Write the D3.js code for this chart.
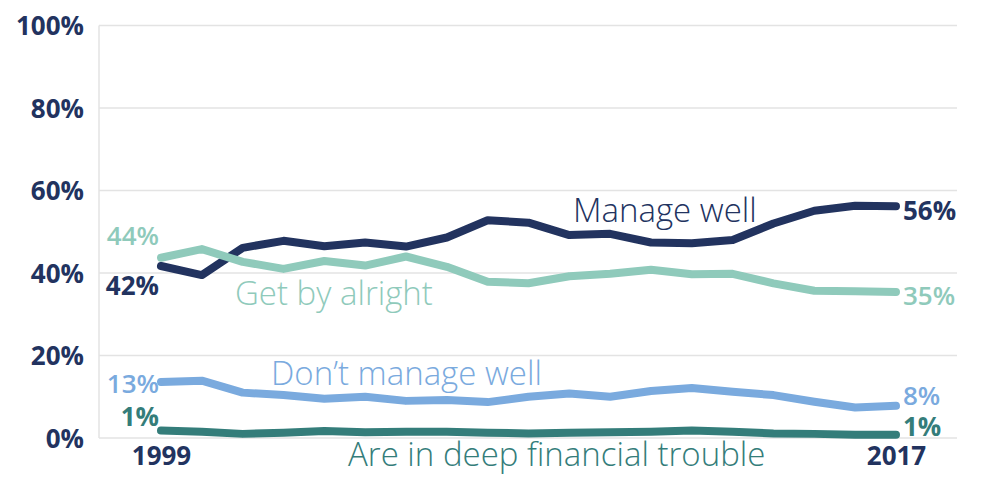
<!DOCTYPE html>
<html><head><meta charset="utf-8">
<script src="https://cdn.jsdelivr.net/npm/d3@7"></script>
<style>
html,body{margin:0;padding:0;background:#fff;}
svg{display:block;}
text{font-family:"Open Sans","Noto Sans",sans-serif;}
</style></head>
<body>
<svg id="chart" width="994" height="498"></svg>
<script>
const years = d3.range(1999, 2018);
const manageWell = [41.7,39.5,46.1,47.8,46.5,47.4,46.4,48.6,52.8,52.2,49.2,49.5,47.4,47.2,48.0,52.0,55.1,56.3,56.2];
const getByAlright = [43.7,45.8,42.7,41.0,42.9,41.8,44.0,41.5,37.9,37.5,39.2,39.8,40.8,39.7,39.8,37.5,35.7,35.6,35.4];
const dontManageWell = [13.6,13.9,11.0,10.4,9.5,10.0,9.0,9.2,8.7,10.0,10.8,10.0,11.4,12.1,11.2,10.4,8.8,7.4,7.8];
const deepTrouble = [1.8,1.5,1.0,1.3,1.7,1.4,1.5,1.5,1.3,1.1,1.3,1.4,1.5,1.8,1.5,1.1,1.0,0.8,0.8];
const yTicks = [0,20,40,60,80,100];
const xTickYears = [1999, 2017];

const series = [
  {name:"Manage well", values:manageWell, color:"#22335f", startLbl:"42%", endLbl:"56%", bold:true,
   lblX:573, lblY:222, sDy:20, eDy:4},
  {name:"Get by alright", values:getByAlright, color:"#8fcabb", startLbl:"44%", endLbl:"35%", bold:false,
   lblX:235, lblY:305, sDy:-22, eDy:4},
  {name:"Don\u2019t manage well", values:dontManageWell, color:"#7aaade", startLbl:"13%", endLbl:"8%", bold:false,
   lblX:271, lblY:385, sDy:2, eDy:-10},
  {name:"Are in deep financial trouble", values:deepTrouble, color:"#347d7a", startLbl:"1%", endLbl:"1%", bold:true,
   lblX:348, lblY:466, sDy:-14, eDy:-8}
];

const svg = d3.select("#chart");
const x = d3.scaleLinear().domain([1999, 2017]).range([161, 896]);
const y = d3.scaleLinear().domain([0, 100]).range([438, 25.5]);
const navy = "#22335f";

// gridlines
svg.append("g").selectAll("line").data(yTicks).join("line")
  .attr("x1", 99).attr("x2", 957)
  .attr("y1", d => y(d)).attr("y2", d => y(d))
  .attr("stroke", "#e3e3e3").attr("stroke-width", 1.5);
svg.append("line").attr("x1", 99).attr("x2", 99).attr("y1", y(100)).attr("y2", y(0))
  .attr("stroke", "#e3e3e3").attr("stroke-width", 1.5);

// y axis
const yAxis = d3.axisLeft(y).tickValues(yTicks).tickFormat(d => d + "%").tickSize(0).tickPadding(0);
const gy = svg.append("g").attr("transform", "translate(84,0)").call(yAxis);
gy.select(".domain").remove();
gy.selectAll("text").attr("fill", navy).attr("font-size", 26).attr("font-weight", 700).attr("dy", "0.36em");

// x axis
const xAxis = d3.axisBottom(x).tickValues(xTickYears).tickFormat(d3.format("d")).tickSize(0).tickPadding(0);
const gx = svg.append("g").attr("transform", "translate(0,440)").call(xAxis);
gx.select(".domain").remove();
gx.selectAll("text").attr("fill", navy).attr("font-size", 26).attr("font-weight", 700).attr("dy", "0.95em");

const line = d3.line().x((d, i) => x(years[i])).y(d => y(d));

series.forEach(s => {
  svg.append("path").datum(s.values).attr("d", line)
    .attr("fill", "none").attr("stroke", s.color).attr("stroke-width", 8)
    .attr("stroke-linecap", "round").attr("stroke-linejoin", "round");
  const first = s.values[0], last = s.values[s.values.length - 1];
  svg.append("text").attr("x", x(1999) - 2).attr("y", y(first) + s.sDy)
    .attr("text-anchor", "end").attr("dy", "0.36em")
    .attr("fill", s.color).attr("font-size", 26).attr("font-weight", s.bold ? 700 : 600)
    .text(s.startLbl);
  svg.append("text").attr("x", x(2017) + 7).attr("y", y(last) + s.eDy)
    .attr("text-anchor", "start").attr("dy", "0.36em")
    .attr("fill", s.color).attr("font-size", 26).attr("font-weight", s.bold ? 700 : 600)
    .text(s.endLbl);
  svg.append("text").attr("x", s.lblX).attr("y", s.lblY)
    .attr("fill", s.color).attr("font-size", 33).attr("font-weight", 300)
    .attr("textLength", null)
    .text(s.name);
});
</script>
</body></html>
